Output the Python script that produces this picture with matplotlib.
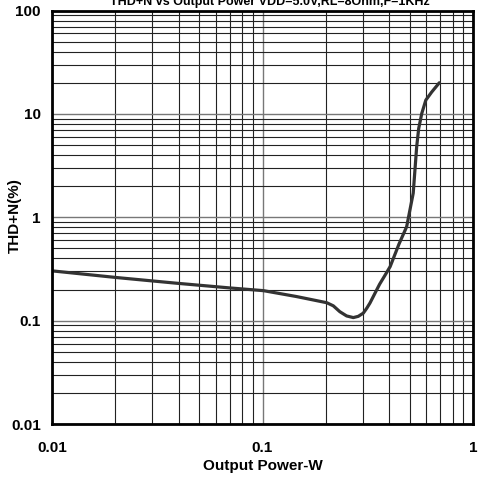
import numpy as np
import matplotlib
matplotlib.use("Agg")
import matplotlib.pyplot as plt
from matplotlib.ticker import LogLocator, NullFormatter, FixedLocator, FixedFormatter

# 곡선 데이터
power_w = [0.01, 0.0203, 0.0391, 0.0702, 0.101, 0.145, 0.202, 0.217, 0.233,
           0.251, 0.270, 0.285, 0.301, 0.313, 0.324, 0.36, 0.38, 0.404, 0.445,
           0.484, 0.52, 0.54, 0.552, 0.571, 0.597, 0.637, 0.692]
thd_pct = [0.303, 0.261, 0.230, 0.207, 0.195, 0.171, 0.149, 0.139, 0.122,
           0.111, 0.107, 0.110, 0.118, 0.132, 0.148, 0.225, 0.27, 0.333, 0.55,
           0.81, 1.71, 4.8, 7.2, 10.1, 13.6, 16.3, 20.0]

x_ticks = [0.01, 0.1, 1]
x_labels = ["0.01", "0.1", "1"]
y_ticks = [0.01, 0.1, 1, 10, 100]
y_labels = ["0.01", "0.1", "1", "10", "100"]

plt.rcParams['font.family'] = ['Liberation Sans', 'DejaVu Sans']
plt.rcParams['font.weight'] = 'bold'

fig = plt.figure(figsize=(4.78, 4.82), dpi=100)
ax = fig.add_axes([52 / 478, 1 - 424 / 482, 421 / 478, 413.5 / 482])

ax.set_xscale('log')
ax.set_yscale('log')
ax.set_xlim(0.01, 1)
ax.set_ylim(0.01, 100)

ax.xaxis.set_major_locator(FixedLocator(x_ticks))
ax.xaxis.set_major_formatter(FixedFormatter(x_labels))
ax.yaxis.set_major_locator(FixedLocator(y_ticks))
ax.yaxis.set_major_formatter(FixedFormatter(y_labels))
ax.xaxis.set_minor_locator(LogLocator(base=10, subs=np.arange(2, 10)))
ax.yaxis.set_minor_locator(LogLocator(base=10, subs=np.arange(2, 10)))
ax.xaxis.set_minor_formatter(NullFormatter())
ax.yaxis.set_minor_formatter(NullFormatter())

ax.grid(True, which='major', color='#777777', lw=1.0)
ax.grid(True, which='minor', color='#222222', lw=0.8)
ax.tick_params(which='both', length=0)
ax.tick_params(axis='x', pad=12, labelsize=11)
ax.tick_params(axis='y', pad=8, labelsize=11)

for s in ax.spines.values():
    s.set_linewidth(2)
    s.set_color('black')

ax.plot(power_w, thd_pct, color='#333333', lw=2.3,
        solid_capstyle='round', solid_joinstyle='round')

ax.set_xlabel('Output Power-W', fontsize=11, fontweight='bold', labelpad=3)
ax.set_ylabel('THD+N(%)', fontsize=11, fontweight='bold')
ax.yaxis.set_label_coords(-0.071, 0.505)

fig.text(270 / 478, 1 - 5 / 482, 'THD+N vs Output Power VDD=5.0V,RL=8Ohm,F=1KHz',
         ha='center', va='baseline', fontsize=9, fontweight='bold')

fig.savefig('out.png', dpi=100)
